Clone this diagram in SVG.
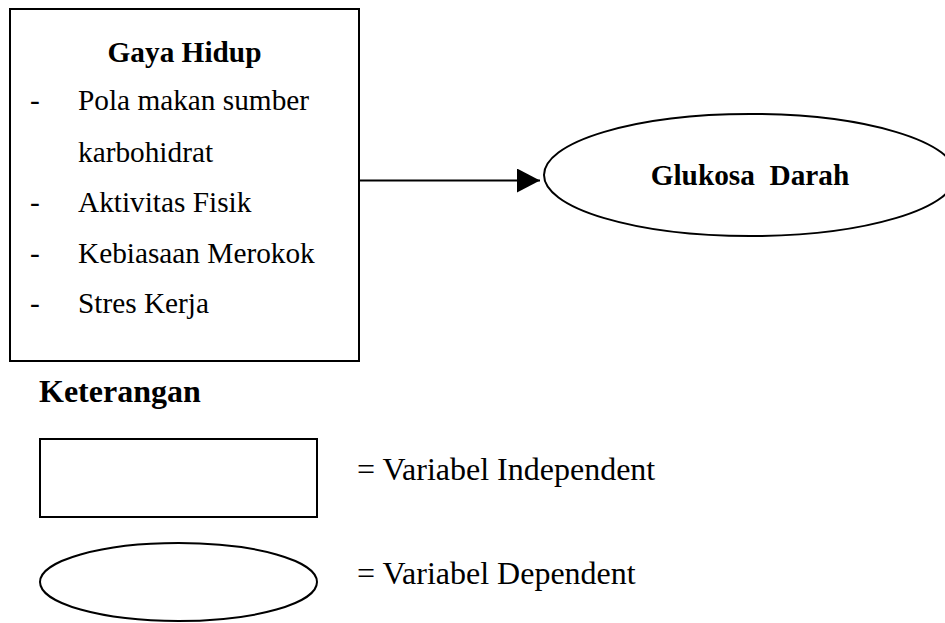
<svg xmlns="http://www.w3.org/2000/svg" width="945" height="623" viewBox="0 0 945 623">
<style>
.shape{fill:#fff;stroke:#000;stroke-width:2}
.t{font-family:"Liberation Serif","Times New Roman",serif;font-size:29.3px;fill:#000}
.b{font-weight:bold}
.lg{font-size:32px}
</style>
<defs>
<marker id="arr" markerUnits="userSpaceOnUse" markerWidth="24" markerHeight="24" refX="23" refY="12" orient="auto">
<path d="M0,0 L23,12 L0,24 Z" fill="#000"/>
</marker>
</defs>
<rect width="945" height="623" fill="#fff"/>
<g id="gaya-hidup">
<rect class="shape" x="10" y="9" width="349" height="352"/>
<text class="t b" x="184.5" y="62" text-anchor="middle">Gaya Hidup</text>
<text class="t" x="30" y="110">-</text>
<text class="t" x="78" y="110">Pola makan sumber</text>
<text class="t" x="78" y="162">karbohidrat</text>
<text class="t" x="30" y="212">-</text>
<text class="t" x="78" y="212">Aktivitas Fisik</text>
<text class="t" x="30" y="263">-</text>
<text class="t" x="78" y="263">Kebiasaan Merokok</text>
<text class="t" x="30" y="313">-</text>
<text class="t" x="78" y="313">Stres Kerja</text>
</g>
<g id="glukosa-darah">
<ellipse class="shape" cx="750" cy="175" rx="206" ry="61"/>
<text class="t b" x="750" y="185" text-anchor="middle" xml:space="preserve" style="white-space:pre">Glukosa  Darah</text>
</g>
<g id="connectors">
<line x1="360" y1="180.5" x2="540" y2="180.5" stroke="#000" stroke-width="2" marker-end="url(#arr)"/>
</g>
<g id="legend">
<text class="t b lg" x="39" y="402">Keterangan</text>
<rect class="shape" x="40" y="439" width="277" height="78"/>
<text class="t lg" x="357" y="480">= Variabel Independent</text>
<ellipse class="shape" cx="178.5" cy="582" rx="138.5" ry="39"/>
<text class="t lg" x="357" y="584">= Variabel Dependent</text>
</g>
</svg>
